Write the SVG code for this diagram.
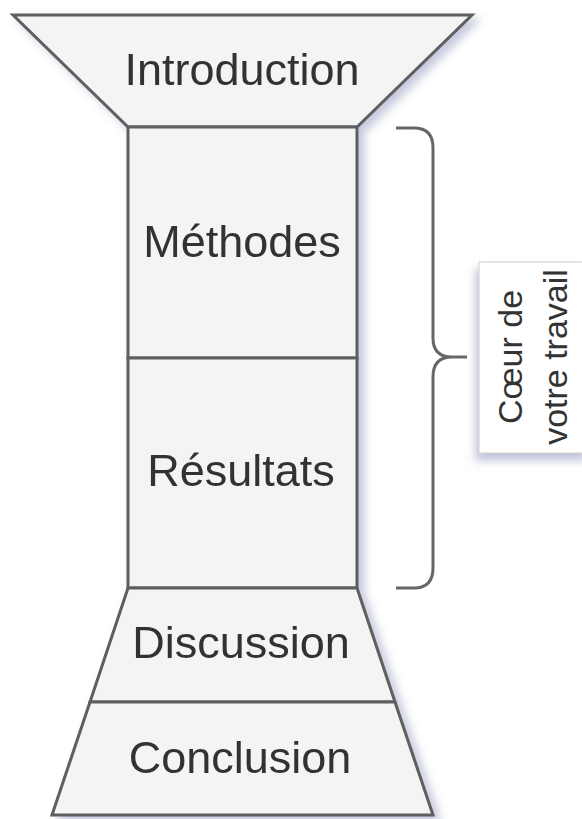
<svg xmlns="http://www.w3.org/2000/svg" width="582" height="819" viewBox="0 0 582 819">
<defs>
<filter id="sh" x="-20%" y="-20%" width="150%" height="150%">
<feDropShadow dx="6" dy="5" stdDeviation="5" flood-color="#7d84b0" flood-opacity="0.45"/>
</filter>
<filter id="sh2" x="-30%" y="-20%" width="160%" height="150%">
<feDropShadow dx="-3" dy="7" stdDeviation="5" flood-color="#7d84b0" flood-opacity="0.5"/>
</filter>
</defs>
<style>
.sec{fill:#f4f4f4;stroke:#5e5e5e;stroke-width:3;stroke-linejoin:miter}
.lbl{font-family:"Liberation Sans",Arial,sans-serif;font-size:45px;fill:#333;text-anchor:middle}
.side{font-family:"Liberation Sans",Arial,sans-serif;font-size:34px;fill:#333;text-anchor:middle}
.brace{fill:none;stroke:#666;stroke-width:3}
</style>
<g filter="url(#sh)">
<g id="introduction">
<polygon class="sec" points="13,15 472,15 357,127 128,127"/>
<text class="lbl" x="242" y="85">Introduction</text>
</g>
<g id="methodes">
<rect class="sec" x="128" y="127" width="229" height="231"/>
<text class="lbl" x="242" y="257">Méthodes</text>
</g>
<g id="resultats">
<rect class="sec" x="128" y="358" width="229" height="230"/>
<text class="lbl" x="241" y="486">Résultats</text>
</g>
<g id="discussion">
<polygon class="sec" points="128,588 357,588 395,702 90,702"/>
<text class="lbl" x="241" y="658">Discussion</text>
</g>
<g id="conclusion">
<polygon class="sec" points="90,702 395,702 433,815 52,815"/>
<text class="lbl" x="240" y="773">Conclusion</text>
</g>
</g>
<g id="connectors">
<path class="brace" d="M396,128 H414 Q433,128 433,148 V338 Q433,357 452,357 H467 M452,357 Q433,357 433,377 V568 Q433,588 414,588 H396"/>
</g>
<g id="coeur-label">
<rect x="479" y="262" width="110" height="191" fill="#fff" stroke="#d0d0d0" stroke-width="1" filter="url(#sh2)"/>
<text class="side" transform="translate(522,357) rotate(-90)">Cœur de</text>
<text class="side" transform="translate(567,357) rotate(-90)">votre travail</text>
</g>
</svg>
